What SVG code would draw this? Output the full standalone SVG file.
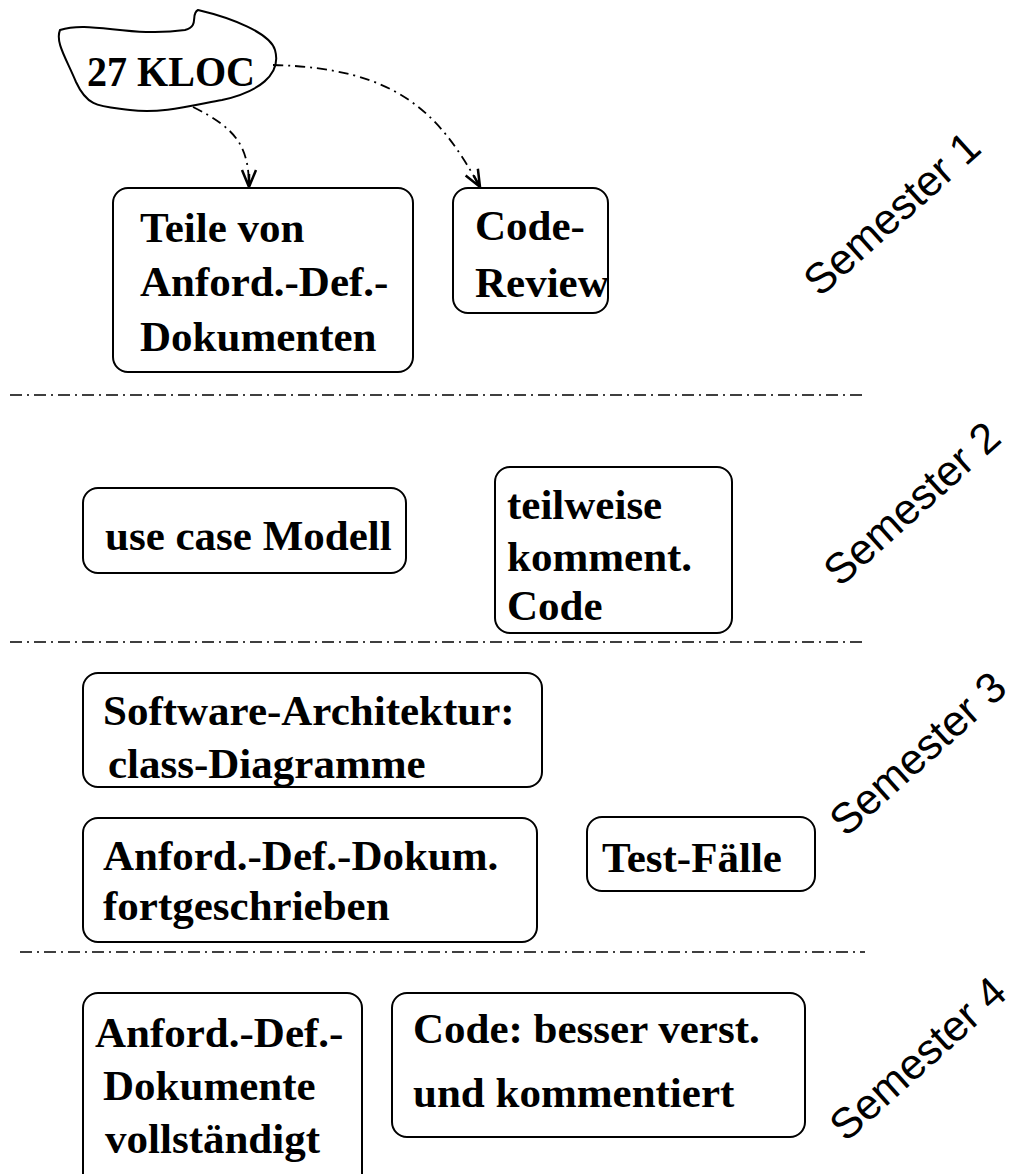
<svg xmlns="http://www.w3.org/2000/svg" width="1015" height="1174" viewBox="0 0 1015 1174">
<style>
.box{fill:none;stroke:#000;stroke-width:2}
.t{font-family:"Liberation Serif","Times New Roman",serif;font-weight:bold;font-size:43px;fill:#000}
.sem{font-family:"Liberation Sans",Arial,sans-serif;font-size:43px;fill:#000}
.div{stroke:#000;stroke-width:1.5;stroke-dasharray:12 5 2 5;fill:none}
.conn{stroke:#000;stroke-width:1.8;stroke-dasharray:10 5 2 5;fill:none}
</style>
<defs>
<marker id="arr" markerWidth="20" markerHeight="18" refX="18" refY="9" orient="auto" markerUnits="userSpaceOnUse">
<path d="M1,2 L18,9 L1,16 M5,9 L18,9" fill="none" stroke="#000" stroke-width="2.5"/>
</marker>
</defs>
<rect width="1015" height="1174" fill="#fff"/>

<g id="kloc">
<path class="box" d="M60,30 C90,20 130,38 185,30 C200,26 190,14 198,10 C232,18 270,33 275,50 C282,75 258,92 222,100 C190,106 160,114 130,110 C100,106 88,108 76,82 C66,58 55,42 60,30 Z"/>
<text class="t" x="87" y="86" font-size="48" textLength="168" lengthAdjust="spacingAndGlyphs">27 KLOC</text>
</g>

<g id="connectors">
<path class="conn" d="M193,107 C235,128 249,145 249,187" marker-end="url(#arr)"/>
<path class="conn" d="M273,65 C400,68 440,115 480,187" marker-end="url(#arr)"/>
</g>

<g id="teile">
<rect class="box" x="113" y="188" width="300" height="184" rx="15"/>
<text class="t" x="140" y="242">Teile von</text>
<text class="t" x="140" y="296">Anford.-Def.-</text>
<text class="t" x="140" y="351">Dokumenten</text>
</g>

<g id="codereview">
<rect class="box" x="453" y="188" width="155" height="125" rx="15"/>
<text class="t" x="475" y="240">Code-</text>
<text class="t" x="475" y="297">Review</text>
</g>

<g id="sem1"><text class="sem" transform="translate(820,298) rotate(-42)">Semester 1</text></g>

<g id="dividers">
<line class="div" x1="10" y1="395" x2="865" y2="395"/>
<line class="div" x1="10" y1="642" x2="865" y2="642"/>
<line class="div" x1="20" y1="952" x2="865" y2="952"/>
</g>

<g id="usecase">
<rect class="box" x="83" y="488" width="323" height="85" rx="15"/>
<text class="t" x="105" y="550">use case Modell</text>
</g>

<g id="teilweise">
<rect class="box" x="495" y="467" width="237" height="166" rx="15"/>
<text class="t" x="507" y="519">teilweise</text>
<text class="t" x="507" y="571">komment.</text>
<text class="t" x="507" y="620">Code</text>
</g>

<g id="sem2"><text class="sem" transform="translate(840,588) rotate(-42)">Semester 2</text></g>

<g id="swarch">
<rect class="box" x="83" y="673" width="459" height="114" rx="15"/>
<text class="t" x="103" y="725">Software-Architektur:</text>
<text class="t" x="108" y="778">class-Diagramme</text>
</g>

<g id="anforddokum">
<rect class="box" x="83" y="818" width="454" height="124" rx="15"/>
<text class="t" x="103" y="870">Anford.-Def.-Dokum.</text>
<text class="t" x="103" y="920">fortgeschrieben</text>
</g>

<g id="testfaelle">
<rect class="box" x="587" y="817" width="228" height="74" rx="15"/>
<text class="t" x="602" y="872">Test-Fälle</text>
</g>

<g id="sem3"><text class="sem" transform="translate(846,838) rotate(-42)">Semester 3</text></g>

<g id="anfordvoll">
<rect class="box" x="83" y="993" width="279" height="200" rx="15"/>
<text class="t" x="95" y="1047">Anford.-Def.-</text>
<text class="t" x="103" y="1100">Dokumente</text>
<text class="t" x="105" y="1153">vollständigt</text>
</g>

<g id="codebesser">
<rect class="box" x="392" y="993" width="413" height="144" rx="15"/>
<text class="t" x="413" y="1043">Code: besser verst.</text>
<text class="t" x="413" y="1107">und kommentiert</text>
</g>

<g id="sem4"><text class="sem" transform="translate(846,1143) rotate(-42)">Semester 4</text></g>
</svg>
